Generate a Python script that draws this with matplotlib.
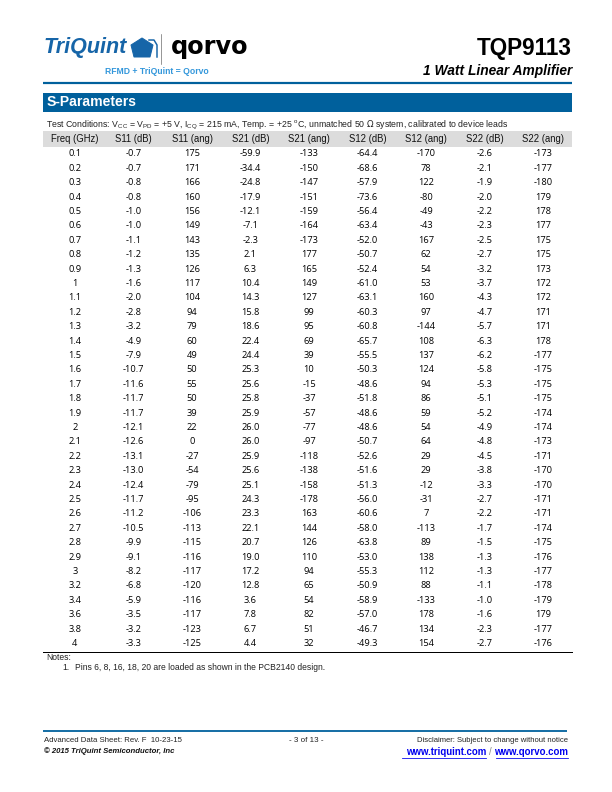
import matplotlib
matplotlib.use("Agg")
import matplotlib.pyplot as plt
from matplotlib.patches import Rectangle, Polygon

# ---------------- data ----------------
freq = [0.1, 0.2, 0.3, 0.4, 0.5, 0.6, 0.7, 0.8, 0.9, 1, 1.1, 1.2, 1.3, 1.4, 1.5,
        1.6, 1.7, 1.8, 1.9, 2, 2.1, 2.2, 2.3, 2.4, 2.5, 2.6, 2.7, 2.8, 2.9, 3,
        3.2, 3.4, 3.6, 3.8, 4]
s11_db = [-0.7, -0.7, -0.8, -0.8, -1.0, -1.0, -1.1, -1.2, -1.3, -1.6, -2.0, -2.8,
          -3.2, -4.9, -7.9, -10.7, -11.6, -11.7, -11.7, -12.1, -12.6, -13.1, -13.0,
          -12.4, -11.7, -11.2, -10.5, -9.9, -9.1, -8.2, -6.8, -5.9, -3.5, -3.2, -3.3]
s11_ang = [175, 171, 166, 160, 156, 149, 143, 135, 126, 117, 104, 94, 79, 60, 49,
           50, 55, 50, 39, 22, 0, -27, -54, -79, -95, -106, -113, -115, -116, -117,
           -120, -116, -117, -123, -125]
s21_db = [-59.9, -34.4, -24.8, -17.9, -12.1, -7.1, -2.3, 2.1, 6.3, 10.4, 14.3, 15.8,
          18.6, 22.4, 24.4, 25.3, 25.6, 25.8, 25.9, 26.0, 26.0, 25.9, 25.6, 25.1,
          24.3, 23.3, 22.1, 20.7, 19.0, 17.2, 12.8, 3.6, 7.8, 6.7, 4.4]
s21_ang = [-133, -150, -147, -151, -159, -164, -173, 177, 165, 149, 127, 99, 95, 69,
           39, 10, -15, -37, -57, -77, -97, -118, -138, -158, -178, 163, 144, 126,
           110, 94, 65, 54, 82, 51, 32]
s12_db = [-64.4, -68.6, -57.9, -73.6, -56.4, -63.4, -52.0, -50.7, -52.4, -61.0, -63.1,
          -60.3, -60.8, -65.7, -55.5, -50.3, -48.6, -51.8, -48.6, -48.6, -50.7, -52.6,
          -51.6, -51.3, -56.0, -60.6, -58.0, -63.8, -53.0, -55.3, -50.9, -58.9, -57.0,
          -46.7, -49.3]
s12_ang = [-170, 78, 122, -80, -49, -43, 167, 62, 54, 53, 160, 97, -144, 108, 137,
           124, 94, 86, 59, 54, 64, 29, 29, -12, -31, 7, -113, 89, 138, 112, 88,
           -133, 178, 134, 154]
s22_db = [-2.6, -2.1, -1.9, -2.0, -2.2, -2.3, -2.5, -2.7, -3.2, -3.7, -4.3, -4.7,
          -5.7, -6.3, -6.2, -5.8, -5.3, -5.1, -5.2, -4.9, -4.8, -4.5, -3.8, -3.3,
          -2.7, -2.2, -1.7, -1.5, -1.3, -1.3, -1.1, -1.0, -1.6, -2.3, -2.7]
s22_ang = [-173, -177, -180, 179, 178, 177, 175, 175, 173, 172, 172, 171, 171, 178,
           -177, -175, -175, -175, -174, -174, -173, -171, -170, -170, -171, -171,
           -174, -175, -176, -177, -178, -179, 179, -177, -176]

headers = ["Freq (GHz)", "S11 (dB)", "S11 (ang)", "S21 (dB)", "S21 (ang)",
           "S12 (dB)", "S12 (ang)", "S22 (dB)", "S22 (ang)"]

# ---------------- figure ----------------
W, H = 612, 792
fig = plt.figure(figsize=(W / 72, H / 72), dpi=72)
ax = fig.add_axes([0, 0, 1, 1])
ax.set_xlim(0, W)
ax.set_ylim(H, 0)
ax.axis("off")

BLUE = "#00609c"
TQBLUE = "#1665a8"
LEFT, RIGHT = 43, 572
ARIAL = "Liberation Sans"
DATAFONT = "Open Sans"
TXT = "#222222"

# --- header logos ---
ax.text(LEFT, 47, "TriQuint", fontsize=21.5, fontweight="bold", style="italic",
        color=TQBLUE, family=ARIAL, va="center", ha="left")
pent = Polygon([(131, 45), (142, 38), (153, 45), (150, 57), (134, 57)],
               closed=True, color=TQBLUE)
ax.add_patch(pent)
ax.plot([149, 154, 157, 157], [40, 40, 45, 57], color=TQBLUE, lw=1.5)
ax.plot([161, 161], [34, 64], color="#555555", lw=0.6)
ax.text(171, 47, "qorvo", fontsize=24, fontweight="bold", color="black",
        family="DejaVu Sans", va="center", ha="left")
ax.text(157, 72, "RFMD + TriQuint = Qorvo", fontsize=8.6, fontweight="bold",
        color="#3397db", family=ARIAL, va="center", ha="center")

ax.text(RIGHT, 48, "TQP9113", fontsize=22.5, fontweight="bold", color="black",
        family=ARIAL, va="center", ha="right")
ax.text(RIGHT, 71, "1 Watt Linear Amplifier", fontsize=13.8, fontweight="bold",
        style="italic", color="black", family=ARIAL, va="center", ha="right")
ax.plot([LEFT, RIGHT], [82.5, 82.5], color=BLUE, lw=2.2, solid_capstyle="butt")

# --- section bar ---
ax.add_patch(Rectangle((LEFT, 93), RIGHT - LEFT, 19, color=BLUE, lw=0))
ax.text(47, 102.5, "S-Parameters", fontsize=14, fontweight="bold", color="white",
        family=ARIAL, va="center", ha="left")

ax.text(46, 125,
        r"Test Conditions: V$\mathregular{_{CC}}$ = V$\mathregular{_{PD}}$ = +5 V, "
        r"I$\mathregular{_{CQ}}$ = 215 mA, Temp. = +25 $\mathregular{^{o}}$C, unmatched 50 $\Omega$ system, "
        "calibrated to device leads",
        fontsize=8.8, color=TXT, family=ARIAL, va="center", ha="left")

# --- table ---
col_x0, col_dx = 75, 58.5
row_y0, row_dy = 154, 14.4
ax.add_patch(Rectangle((LEFT, 131), RIGHT - LEFT, 16, color="#dcdcdc", lw=0))
for i, h in enumerate(headers):
    ax.text(col_x0 + i * col_dx, 139, h, fontsize=9.5, color="#111111",
            family=ARIAL, va="center", ha="center")

columns = [
    [f"{v:g}" for v in freq],
    [f"{v:.1f}" for v in s11_db],
    [f"{v:d}" for v in s11_ang],
    [f"{v:.1f}" for v in s21_db],
    [f"{v:d}" for v in s21_ang],
    [f"{v:.1f}" for v in s12_db],
    [f"{v:d}" for v in s12_ang],
    [f"{v:.1f}" for v in s22_db],
    [f"{v:d}" for v in s22_ang],
]
for ci, col in enumerate(columns):
    for ri, val in enumerate(col):
        ax.text(col_x0 + ci * col_dx, row_y0 + ri * row_dy, val, fontsize=9.2,
                color="black", family=DATAFONT, va="center", ha="center")

last_y = row_y0 + (len(freq) - 1) * row_dy
ax.plot([LEFT, RIGHT], [last_y + 8, last_y + 8], color="black", lw=1.0)
ax.text(46, last_y + 13.5, "Notes:", fontsize=8.5, color=TXT, family=ARIAL,
        va="center", ha="left")
ax.text(62, last_y + 23.5, "1.", fontsize=8.5, color=TXT, family=ARIAL,
        va="center", ha="left")
ax.text(75, last_y + 23.5, "Pins 6, 8, 16, 18, 20 are loaded as shown in the PCB2140 design.",
        fontsize=8.5, color=TXT, family=ARIAL, va="center", ha="left")

# --- footer ---
ax.plot([LEFT, 567], [731, 731], color=BLUE, lw=1.8, solid_capstyle="butt")
ax.text(LEFT + 1, 741, "Advanced Data Sheet: Rev. F  10-23-15", fontsize=7.8,
        color=TXT, family=ARIAL, va="center", ha="left")
ax.text(LEFT + 1, 751, "© 2015 TriQuint Semiconductor, Inc", fontsize=7.8,
        fontweight="bold", style="italic", color="#111111", family=ARIAL,
        va="center", ha="left")
ax.text(306, 741, "- 3 of 13 -", fontsize=8, color=TXT, family=ARIAL,
        va="center", ha="center")
ax.text(568, 741, "Disclaimer: Subject to change without notice", fontsize=7.6,
        color=TXT, family=ARIAL, va="center", ha="right")
ax.text(568, 752, "www.qorvo.com", fontsize=9.6, fontweight="bold",
        color="#0000ee", family=ARIAL, va="center", ha="right")
ax.text(490.5, 752, "/", fontsize=9.6, color="#888888", family=ARIAL,
        va="center", ha="center")
ax.text(486, 752, "www.triquint.com", fontsize=9.6, fontweight="bold",
        color="#0000ee", family=ARIAL, va="center", ha="right")
ax.plot([402, 486], [758, 758], color="#0000ee", lw=0.8)
ax.plot([496, 568], [758, 758], color="#0000ee", lw=0.8)

fig.savefig("out.png", dpi=72)
